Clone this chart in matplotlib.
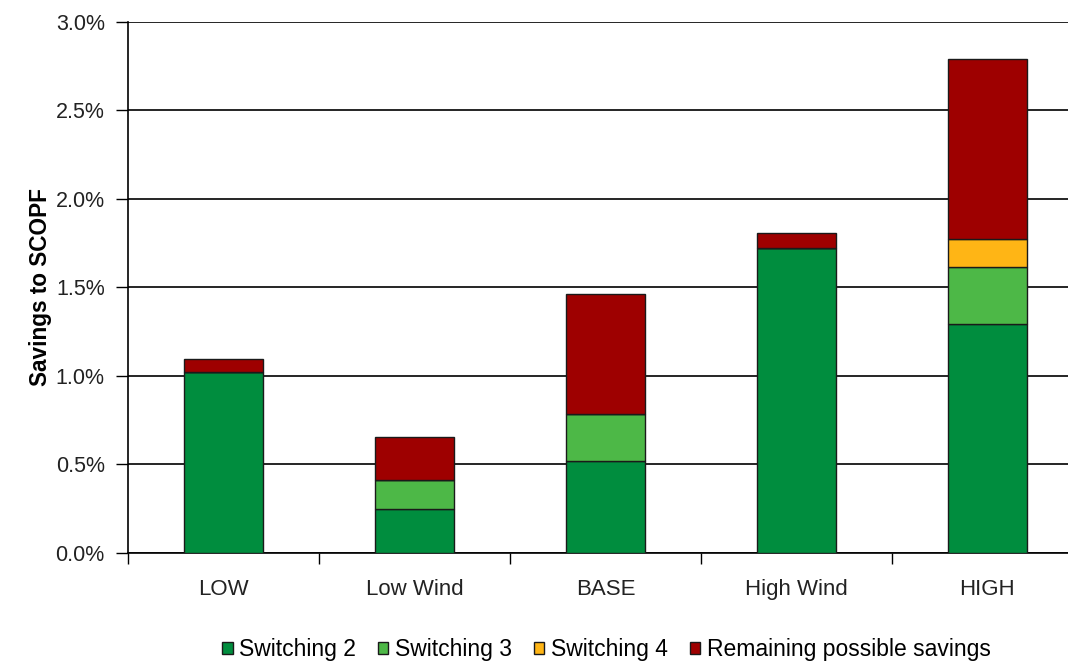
import matplotlib.pyplot as plt
import numpy as np
from matplotlib.ticker import FuncFormatter, FixedLocator

plt.rcParams['font.family'] = ['Liberation Sans', 'DejaVu Sans']

cases = ["LOW", "Low Wind", "BASE", "High Wind", "HIGH"]
switching_2 = [1.02, 0.25, 0.52, 1.725, 1.295]
switching_3 = [0.0, 0.165, 0.264, 0.0, 0.32]
switching_4 = [0.0, 0.0, 0.0, 0.0, 0.16]
remaining = [0.076, 0.24, 0.681, 0.08, 1.014]

series = [
    ("Switching 2", switching_2, "#008d3e"),
    ("Switching 3", switching_3, "#4db847"),
    ("Switching 4", switching_4, "#ffb515"),
    ("Remaining possible savings", remaining, "#9e0000"),
]

fig = plt.figure(figsize=(10.68, 6.62), dpi=100)
ax = fig.add_axes([0.1203, 0.1647, 0.8933, 0.8021])

x = np.arange(len(cases))
bottom = np.zeros(len(cases))
for name, vals, color in series:
    vals = np.array(vals)
    ax.bar(x, vals, width=0.415, bottom=bottom, color=color,
           edgecolor="#1a1a1a", linewidth=1.0, label=name, zorder=3)
    bottom += vals

ax.set_xlim(-0.5, len(cases) - 0.5)
ax.set_ylim(0, 3.0)
ax.set_yticks(np.arange(0, 3.01, 0.5))
ax.yaxis.set_major_formatter(FuncFormatter(lambda v, p: f"{v:.1f}%"))
ax.grid(axis="y", color="black", linewidth=1.2, zorder=0)

ax.set_xticks(x)
ax.set_xticklabels(cases)
ax.xaxis.set_minor_locator(FixedLocator(np.arange(-0.5, len(cases), 1.0)))
ax.tick_params(axis="x", which="major", length=0, pad=19, labelsize=16, labelcolor="#222222")
ax.tick_params(axis="x", which="minor", length=8, width=1.0, color="black")
ax.tick_params(axis="y", length=9, width=1.0, pad=8, labelsize=15.5, labelcolor="#222222")

for side in ["top", "right"]:
    ax.spines[side].set_visible(False)
for side in ["left", "bottom"]:
    ax.spines[side].set_color("black")
    ax.spines[side].set_linewidth(1.2)

ax.set_ylabel("Savings to SCOPF", fontsize=16.3, fontweight="bold")
ax.yaxis.set_label_coords(-0.08, 0.5)

fig.legend(loc="center", bbox_to_anchor=(0.568, 0.019), ncol=4, frameon=False,
           fontsize=16.5, handlelength=0.45, handleheight=0.45, handletextpad=0.3,
           columnspacing=0.95)

fig.savefig("out.png", dpi=100)
